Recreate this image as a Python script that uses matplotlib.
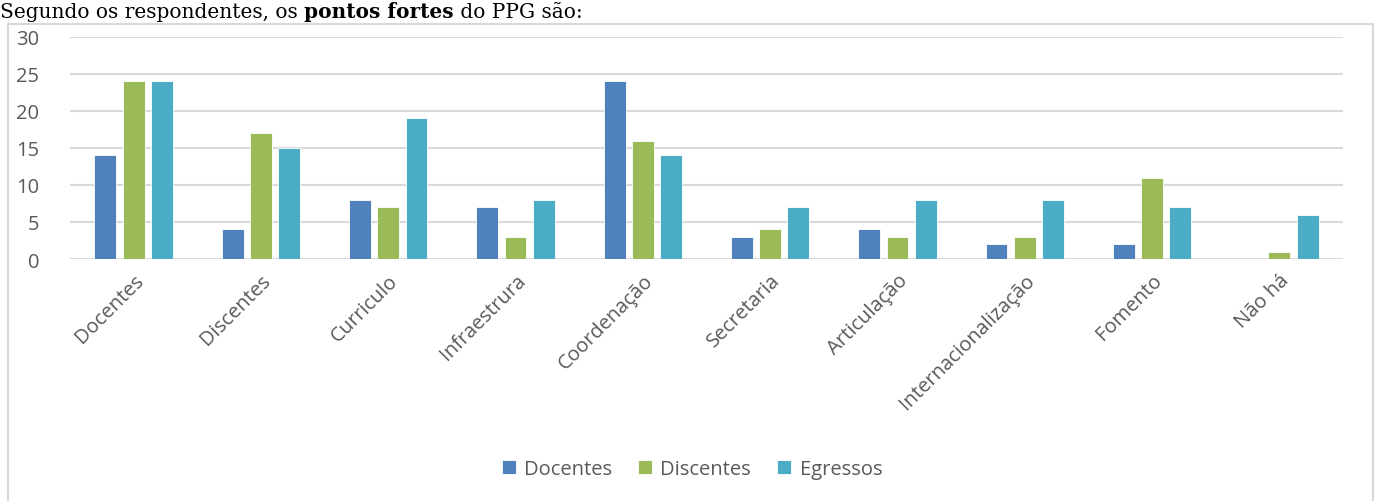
import matplotlib
matplotlib.use('Agg')
import matplotlib.pyplot as plt
import matplotlib.patches as patches
import numpy as np

# categories and the three respondent groups
categorias = ['Docentes', 'Discentes', 'Curriculo', 'Infraestrura', 'Coordenação',
              'Secretaria', 'Articulação', 'Internacionalização', 'Fomento', 'Não há']
docentes = [14, 4, 8, 7, 24, 3, 4, 2, 2, 0]
discentes = [24, 17, 7, 3, 16, 4, 3, 3, 11, 1]
egressos = [24, 15, 19, 8, 14, 7, 8, 8, 7, 6]
series_nomes = ['Docentes', 'Discentes', 'Egressos']
cores = ['#4F81BD', '#9BBB59', '#4BACC6']

plt.rcParams['font.family'] = ['Open Sans', 'DejaVu Sans']
cinza = '#595959'

fig = plt.figure(figsize=(13.8, 5.02), dpi=100)

# outer chart frame
fig.patches.append(patches.Rectangle((8/1380, -0.01), 1365/1380, (502-25)/502 + 0.01,
                                     transform=fig.transFigure, fill=False,
                                     edgecolor='#d9d9d9', linewidth=1.5))

ax = fig.add_axes([70/1380, (502-260)/502, (1343-70)/1380, (260-38)/502])

x = np.arange(len(categorias))
w = 0.172
off = 0.222
for i, (vals, nome, cor) in enumerate(zip([docentes, discentes, egressos], series_nomes, cores)):
    ax.bar(x + (i - 1) * off, vals, width=w, color=cor, label=nome,
           edgecolor='white', linewidth=0.6, zorder=3)

ax.set_xlim(-0.5, len(categorias) - 0.5)
ax.set_ylim(0, 30)
ax.set_yticks(range(0, 31, 5))
ax.yaxis.grid(True, color='#d9d9d9', linewidth=1.5, zorder=0)
for s in ax.spines.values():
    s.set_visible(False)
ax.tick_params(axis='y', length=0, colors=cinza, labelsize=14.5, pad=22)
ax.set_xticks(x)
ax.set_xticklabels(categorias, rotation=45, ha='right', rotation_mode='anchor',
                   color=cinza, fontsize=14.5)
ax.tick_params(axis='x', length=0, pad=8)

leg = fig.legend(loc='center', bbox_to_anchor=(692/1380, (502-470)/502), ncol=3,
                 frameon=False, fontsize=14.5, handlelength=0.7, handleheight=0.7,
                 columnspacing=1.3, handletextpad=0.4)
for t in leg.get_texts():
    t.set_color(cinza)

# heading above the chart frame
t1 = fig.text(0.0, (502-18)/502, 'Segundo os respondentes, os ', fontsize=14.5,
              family='DejaVu Serif', va='baseline', ha='left')
t2 = ax.annotate('pontos fortes', xy=(1, 0), xycoords=t1, fontsize=14.5, family='DejaVu Serif',
                 weight='bold', va='bottom', ha='left', annotation_clip=False)
ax.annotate(' do PPG são:', xy=(1, 0), xycoords=t2, fontsize=14.5, family='DejaVu Serif',
            va='bottom', ha='left', annotation_clip=False)

plt.savefig('out.png', dpi=100)
